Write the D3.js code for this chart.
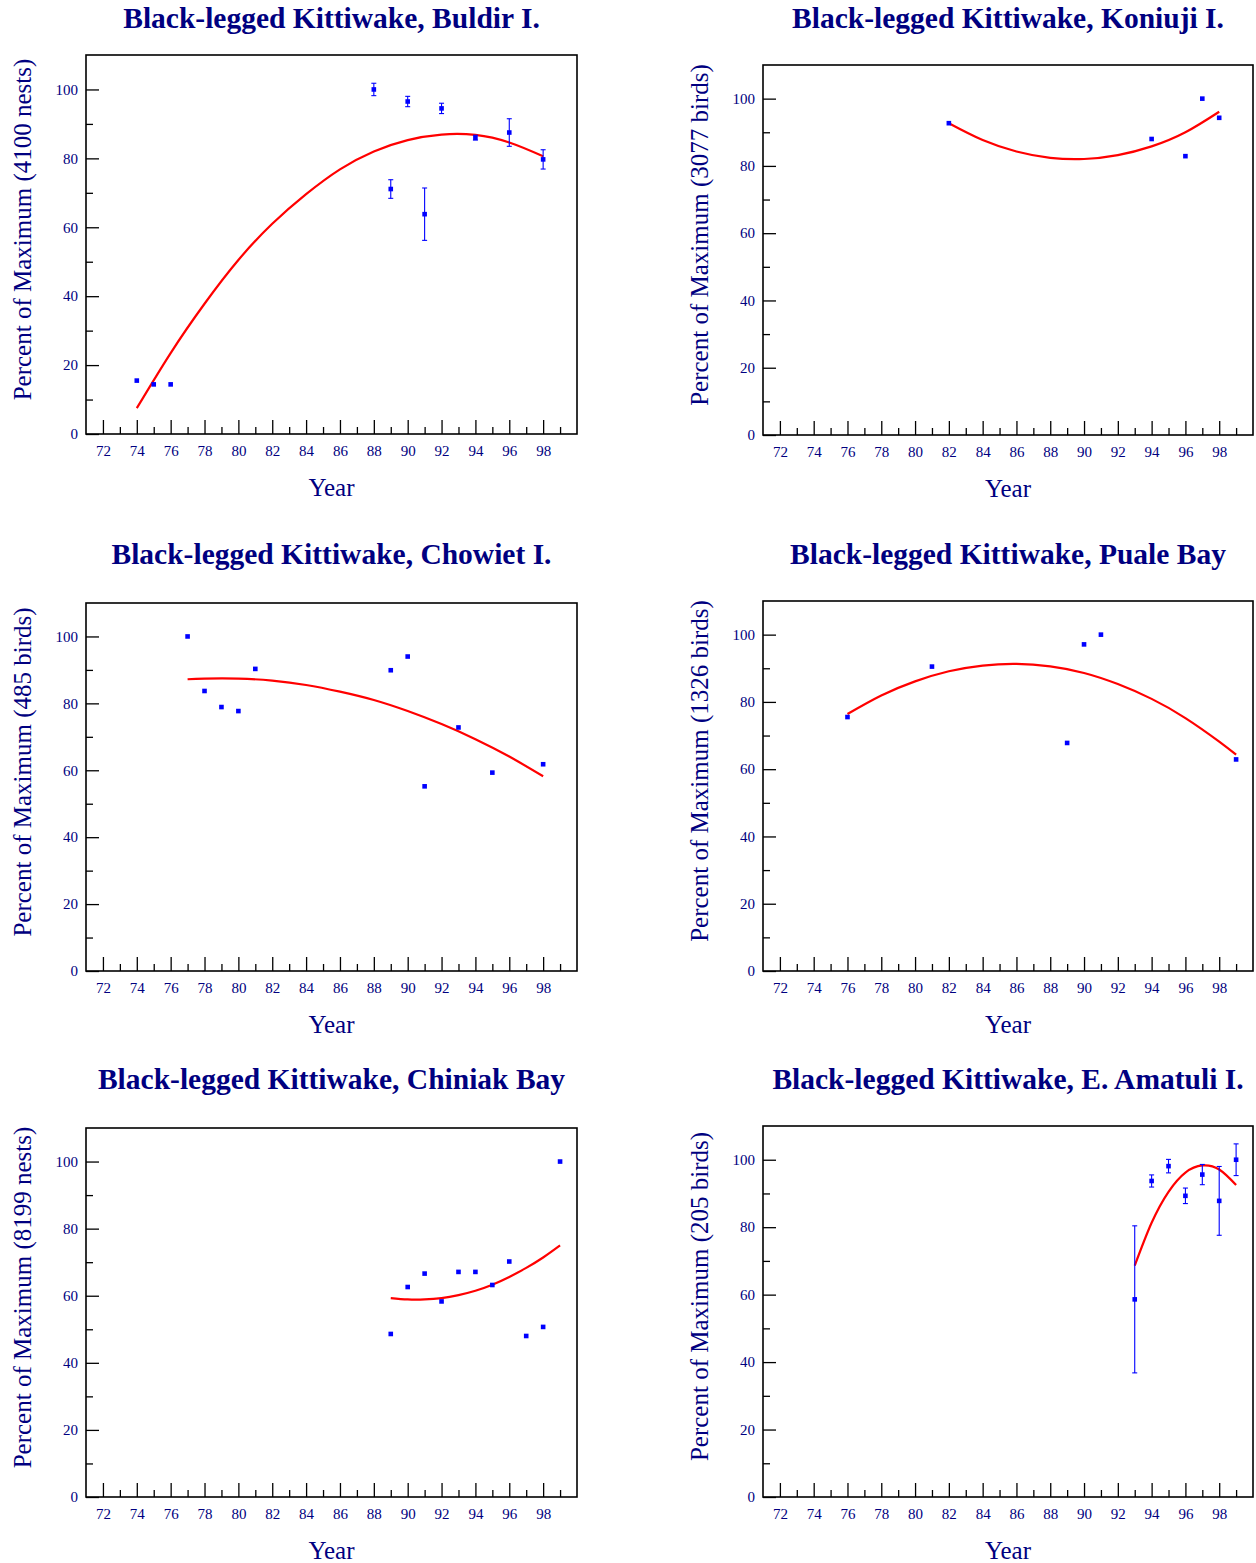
<!DOCTYPE html>
<html>
<head>
<meta charset="utf-8">
<script src="https://cdn.jsdelivr.net/npm/d3@7"></script>
<style>
body { margin:0; background:#fff; }
text { font-family:"Liberation Serif","Times New Roman",serif; }
</style>
</head>
<body>
<svg id="chart"></svg>
<script>
// Buldir I.
var buldirYears = [74,75,76,88,89,90,91,92,94,96,98];
var buldirPct = [15.5,14.4,14.4,100,71.1,96.5,63.8,94.5,86.0,87.5,79.7];
var buldirErr = [0,0,0,1.8,2.7,1.5,7.6,1.5,0.7,4.0,2.8];
var buldirFitYears = [74,76,78,80,82,84,86,88,90,92,94,96,98];
var buldirFitPct = [7.5,23.5,37.8,50.5,61.0,69.6,76.8,82.0,85.3,86.9,86.8,84.6,80.6];

// Koniuji I.
var koniujiYears = [82,94,96,97,98];
var koniujiPct = [92.7,88.0,82.9,100,94.3];
var koniujiErr = [0,0,0,0,0];
var koniujiFitYears = [82,84,86,88,90,92,94,96,98];
var koniujiFitPct = [92.7,87.7,84.3,82.4,82.05,83.2,85.8,90.0,96.1];

// Chowiet I.
var chowietYears = [77,78,79,80,81,89,90,91,93,95,98];
var chowietPct = [100,83.7,78.9,77.7,90.3,89.9,94.0,55.2,72.8,59.3,61.8];
var chowietErr = [0,0,0,0,0,0,0,0,0,0,0];
var chowietFitYears = [77,78,80,82,84,86,88,90,92,94,96,98];
var chowietFitPct = [87.2,87.4,87.4,86.8,85.5,83.5,81.0,77.7,73.8,69.3,64.1,58.2];

// Puale Bay
var pualeYears = [76,81,89,90,91,99];
var pualePct = [75.5,90.5,67.8,97.1,100,62.9];
var pualeErr = [0,0,0,0,0,0];
var pualeFitYears = [76,78,80,82,84,86,88,90,92,94,96,98,99];
var pualeFitPct = [76.4,81.9,86.1,89.1,90.8,91.3,90.55,88.6,85.3,80.9,75.2,68.2,64.3];

// Chiniak Bay
var chiniakYears = [89,90,91,92,93,94,95,96,97,98,99];
var chiniakPct = [48.6,62.6,66.6,58.3,67.1,67.1,63.2,70.2,48.0,50.7,100];
var chiniakErr = [0,0,0,0,0,0,0,0,0,0,0];
var chiniakFitYears = [89,90,91,92,93,94,95,96,97,98,99];
var chiniakFitPct = [59.3,58.9,58.9,59.3,60.2,61.5,63.3,65.6,68.3,71.4,75.0];

// E. Amatuli I.
var amatuliYears = [93,94,95,96,97,98,99];
var amatuliPct = [58.6,93.7,98.1,89.3,95.6,87.8,100];
var amatuliErr = [21.8,1.8,2.0,2.3,3.0,10.2,4.7];
var amatuliFitYears = [93,94,95,96,97,98,99];
var amatuliFitPct = [68.6,81.3,90.5,96.2,98.3,97.1,92.5];

var majorYears = [72,74,76,78,80,82,84,86,88,90,92,94,96,98];
var minorYears = [73,75,77,79,81,83,85,87,89,91,93,95,97,99];
var majorPct = [0,20,40,60,80,100];
var minorPct = [10,30,50,70,90];

var navy = "#000080";

var zip = function(xs, ys, es)
{
    return xs.map(function(x, i)
    {
        return {year:x, pct:ys[i], err:es ? es[i] : 0};
    });
}

var panels = [
    {title:"Black-legged Kittiwake, Buldir I.", ylab:"Percent of Maximum (4100 nests)",
     pts:zip(buldirYears,buldirPct,buldirErr), fit:zip(buldirFitYears,buldirFitPct),
     left:86, right:577, top:55, bottom:434, titleY:28},
    {title:"Black-legged Kittiwake, Koniuji I.", ylab:"Percent of Maximum (3077 birds)",
     pts:zip(koniujiYears,koniujiPct,koniujiErr), fit:zip(koniujiFitYears,koniujiFitPct),
     left:763, right:1253, top:65, bottom:435, titleY:28},
    {title:"Black-legged Kittiwake, Chowiet I.", ylab:"Percent of Maximum (485 birds)",
     pts:zip(chowietYears,chowietPct,chowietErr), fit:zip(chowietFitYears,chowietFitPct),
     left:86, right:577, top:603, bottom:971, titleY:564},
    {title:"Black-legged Kittiwake, Puale Bay", ylab:"Percent of Maximum (1326 birds)",
     pts:zip(pualeYears,pualePct,pualeErr), fit:zip(pualeFitYears,pualeFitPct),
     left:763, right:1253, top:601, bottom:971, titleY:564},
    {title:"Black-legged Kittiwake, Chiniak Bay", ylab:"Percent of Maximum (8199 nests)",
     pts:zip(chiniakYears,chiniakPct,chiniakErr), fit:zip(chiniakFitYears,chiniakFitPct),
     left:86, right:577, top:1128, bottom:1497, titleY:1089},
    {title:"Black-legged Kittiwake, E. Amatuli I.", ylab:"Percent of Maximum (205 birds)",
     pts:zip(amatuliYears,amatuliPct,amatuliErr), fit:zip(amatuliFitYears,amatuliFitPct),
     left:763, right:1253, top:1126, bottom:1497, titleY:1089}
];

var svg = d3.select("#chart")
    .attr("width",1256)
    .attr("height",1563);

svg.append("rect")
    .attr("width",1256)
    .attr("height",1563)
    .attr("fill","#fff");

var styleAxis = function(g)
{
    g.attr("color","#000")
     .attr("font-family","'Liberation Serif','Times New Roman',serif")
     .attr("font-size",15);
    g.select(".domain").remove();
    g.selectAll("line").attr("stroke-width",1.3);
    g.selectAll("text").attr("fill",navy);
}

var drawPanel = function(p)
{
    var g = svg.append("g");

    var xScale = d3.scaleLinear()
        .domain([71,100])
        .range([p.left,p.right]);

    var yScale = d3.scaleLinear()
        .domain([0,110])
        .range([p.bottom,p.top]);

    g.append("g")
        .attr("transform","translate(0,"+p.bottom+")")
        .call(d3.axisBottom(xScale).tickValues(majorYears).tickSizeInner(-14).tickSizeOuter(0).tickPadding(11))
        .call(styleAxis);

    g.append("g")
        .attr("transform","translate(0,"+p.bottom+")")
        .call(d3.axisBottom(xScale).tickValues(minorYears).tickSizeInner(-7).tickSizeOuter(0).tickFormat(""))
        .call(styleAxis);

    g.append("g")
        .attr("transform","translate("+p.left+",0)")
        .call(d3.axisLeft(yScale).tickValues(majorPct).tickSizeInner(-13).tickSizeOuter(0).tickPadding(8))
        .call(styleAxis);

    g.append("g")
        .attr("transform","translate("+p.left+",0)")
        .call(d3.axisLeft(yScale).tickValues(minorPct).tickSizeInner(-7).tickSizeOuter(0).tickFormat(""))
        .call(styleAxis);

    g.append("rect")
        .attr("x",p.left)
        .attr("y",p.top)
        .attr("width",p.right-p.left)
        .attr("height",p.bottom-p.top)
        .attr("fill","none")
        .attr("stroke","#000")
        .attr("stroke-width",1.6);

    var line = d3.line()
        .x(function(d){ return xScale(d.year); })
        .y(function(d){ return yScale(d.pct); })
        .curve(d3.curveNatural);

    g.append("path")
        .datum(p.fit)
        .attr("d",line)
        .attr("fill","none")
        .attr("stroke","#ff0000")
        .attr("stroke-width",2.2);

    var bars = g.selectAll(".err")
        .data(p.pts.filter(function(d){ return d.err > 0; }))
        .enter()
        .append("g")
        .attr("class","err")
        .attr("stroke","#0000ff")
        .attr("stroke-width",1.1);

    bars.append("line")
        .attr("x1",function(d){ return xScale(d.year); })
        .attr("x2",function(d){ return xScale(d.year); })
        .attr("y1",function(d){ return yScale(d.pct-d.err); })
        .attr("y2",function(d){ return yScale(d.pct+d.err); });

    [-1,1].forEach(function(s)
    {
        bars.append("line")
            .attr("x1",function(d){ return xScale(d.year)-2.5; })
            .attr("x2",function(d){ return xScale(d.year)+2.5; })
            .attr("y1",function(d){ return yScale(d.pct+s*d.err); })
            .attr("y2",function(d){ return yScale(d.pct+s*d.err); });
    });

    g.selectAll(".pt")
        .data(p.pts)
        .enter()
        .append("rect")
        .attr("class","pt")
        .attr("x",function(d){ return xScale(d.year)-2.3; })
        .attr("y",function(d){ return yScale(d.pct)-2.3; })
        .attr("width",4.6)
        .attr("height",4.6)
        .attr("fill","#0000ff");

    var cx = (p.left+p.right)/2;

    g.append("text")
        .attr("x",cx)
        .attr("y",p.titleY)
        .attr("text-anchor","middle")
        .attr("font-size",29.5)
        .attr("font-weight","bold")
        .attr("fill",navy)
        .text(p.title);

    g.append("text")
        .attr("x",cx)
        .attr("y",p.bottom+62)
        .attr("text-anchor","middle")
        .attr("font-size",25)
        .attr("fill",navy)
        .text("Year");

    g.append("text")
        .attr("transform","translate("+(p.left-64)+","+((p.top+p.bottom)/2-15)+") rotate(-90)")
        .attr("text-anchor","middle")
        .attr("dy","0.35em")
        .attr("font-size",25)
        .attr("fill",navy)
        .text(p.ylab);
}

panels.forEach(drawPanel);
</script>
</body>
</html>
